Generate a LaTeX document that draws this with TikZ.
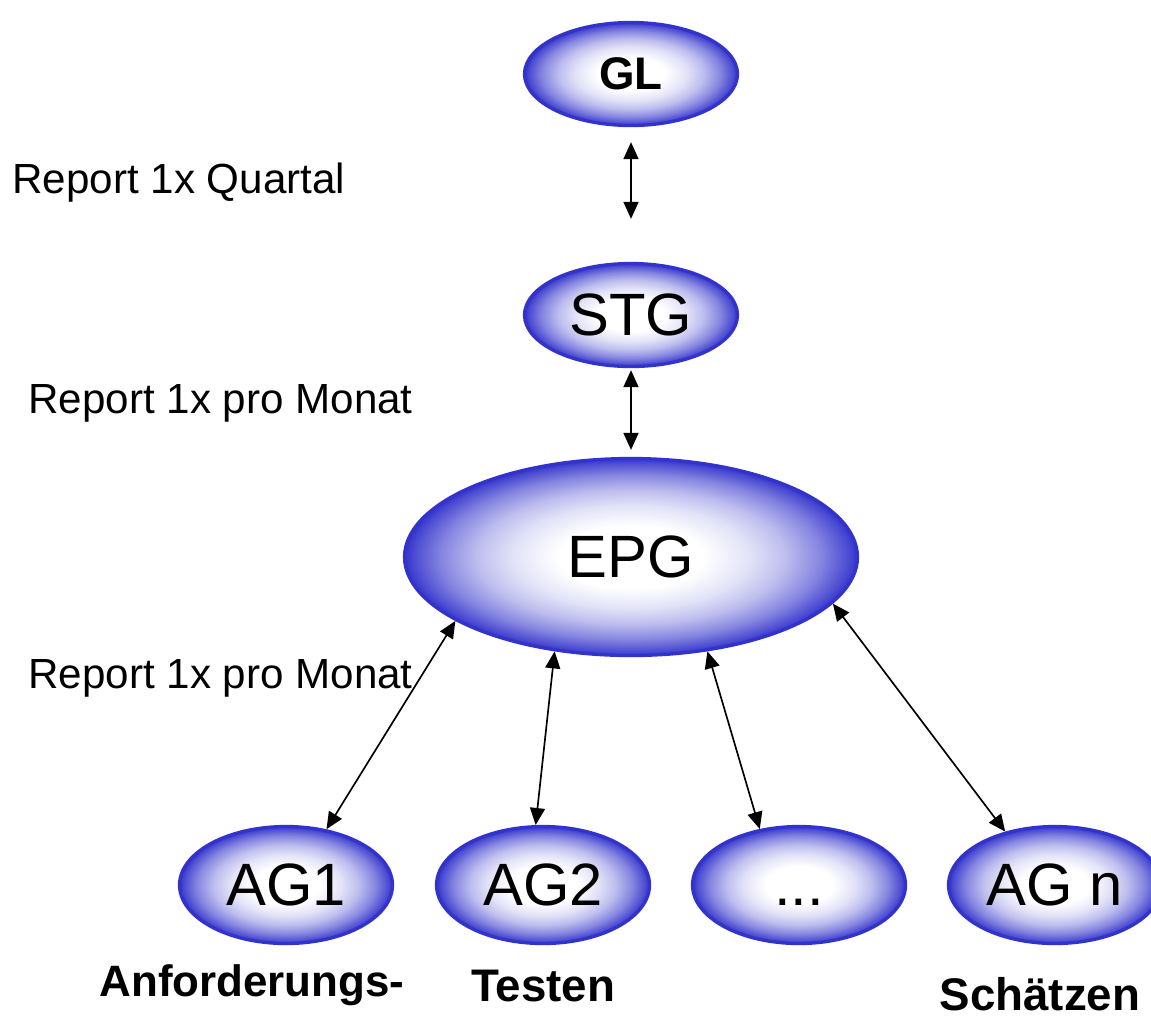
\documentclass[tikz,border=0pt]{standalone}
\usepackage{fontspec}
\setmainfont{Liberation Sans}
\usetikzlibrary{shapes.geometric, arrows.meta}
\definecolor{ovalBlue}{RGB}{51, 51, 204}
\pgfdeclareradialshading{ovalshade}{\pgfpoint{0bp}{0bp}}{color(0bp)=(white); color(8bp)=(white);
  color(13bp)=(ovalBlue!14); color(17bp)=(ovalBlue!32); color(21bp)=(ovalBlue!60);
  color(24bp)=(ovalBlue!88); color(25bp)=(ovalBlue); color(50bp)=(ovalBlue)}

\begin{document}
\begin{tikzpicture}[x=0.02cm, y=-0.02cm,
    gruppe/.style={ellipse, draw=ovalBlue, line width=1.9pt, shading=ovalshade,
      inner sep=0pt, minimum width=4.26cm, minimum height=2.34cm,
      font=\fontsize{34}{40}\selectfont},
    rep/.style={{Triangle[length=0.34cm, width=0.3cm]}-{Triangle[length=0.34cm, width=0.3cm]},
      line width=0.95pt},
    notiz/.style={anchor=base west, inner sep=0pt, font=\fontsize{24}{28}\selectfont},
    thema/.style={anchor=base, inner sep=0pt, font=\bfseries\fontsize{26}{30}\selectfont}]
  \useasboundingbox (0,0) rectangle (1151,1019);

  % Leitungsebene
  \node[gruppe, minimum height=2.06cm, font=\bfseries\fontsize{26}{30}\selectfont] (GL) at (631,74) {GL};
  \node[gruppe, minimum height=2.06cm] (STG) at (631,315) {STG};
  \node[gruppe, minimum width=9.06cm, minimum height=3.94cm] (EPG) at (631,557) {EPG};

  % Arbeitsgruppen
  \node[gruppe] (AG1) at (286,885) {AG1};
  \node[gruppe] (AG2) at (543,885) {AG2};
  \node[gruppe] (dots) at (799,885) {\vphantom{AG}...};
  \node[gruppe] (AGn) at (1055,885) {AG n};

  % Berichtswege
  \draw[rep, shorten <=0.3cm, shorten >=0.86cm] (GL.south) -- (STG.north);
  \draw[rep, shorten <=0.04cm, shorten >=0.14cm] (STG.south) -- (EPG.north);
  \draw[rep] (EPG.200) -- (AG1.54);
  \draw[rep] (EPG.231) -- (AG2.97);
  \draw[rep] (EPG.309) -- (dots.125);
  \draw[rep] (EPG.347) -- (AGn.133);

  \node[notiz] (quartal) at (12,193) {Report 1x Quartal};
  \node[notiz] (monat1) at (28,413) {Report 1x pro Monat};
  \node[notiz] (monat2) at (28,688) {Report 1x pro Monat};

  \node[thema, font=\bfseries\fontsize{25}{30}\selectfont] (anf) at (252,996) {Anforderungs-};
  \node[thema] (test) at (543,1001) {Testen};
  \node[thema] (schaetz) at (1040,1010) {Schätzen};
\end{tikzpicture}
\end{document}
